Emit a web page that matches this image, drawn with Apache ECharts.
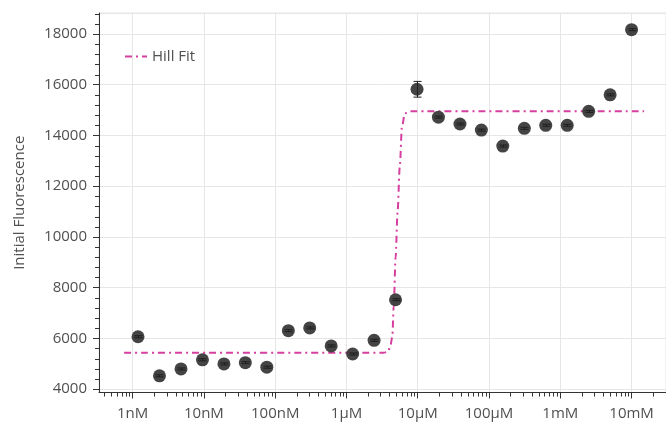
<!DOCTYPE html>
<html>
<head>
<meta charset="utf-8">
<script src="https://cdn.jsdelivr.net/npm/echarts@6/dist/echarts.min.js"></script>
<style>
  html, body { margin: 0; padding: 0; background: #fff; }
  #chart { width: 666px; height: 423px; }
</style>
</head>
<body>
<div id="chart"></div>
<script>
// concentrations (M), 2-fold dilution
var conc = [1.19e-9, 2.38e-9, 4.77e-9, 9.54e-9, 1.91e-8, 3.81e-8, 7.63e-8, 1.53e-7,
  3.05e-7, 6.10e-7, 1.22e-6, 2.44e-6, 4.88e-6, 9.77e-6, 1.95e-5, 3.91e-5,
  7.81e-5, 1.56e-4, 3.13e-4, 6.25e-4, 1.25e-3, 2.5e-3, 5e-3, 1e-2];
var fluo = [6060, 4520, 4790, 5150, 4990, 5040, 4860, 6300,
  6410, 5700, 5380, 5920, 7520, 15820, 14720, 14450,
  14210, 13580, 14280, 14400, 14400, 14950, 15600, 18170];
var fluoErr = [40, 40, 40, 40, 40, 40, 40, 40,
  40, 40, 40, 40, 40, 310, 40, 40,
  40, 40, 40, 40, 40, 40, 40, 40];

// Hill fit curve
var fitX = [7.6e-10, 3.3e-6, 3.8e-6, 4.1e-6, 4.4e-6, 4.6e-6, 4.9e-6, 5.2e-6, 5.6e-6, 6.0e-6, 6.6e-6, 7.7e-6, 1.5e-2];
var fitY = [5430, 5430, 5460, 5650, 6060, 7250, 9220, 10930, 12770, 14340, 14870, 14950, 14950];

var xTickValues = [1e-9, 1e-8, 1e-7, 1e-6, 1e-5, 1e-4, 1e-3, 1e-2];
var xTickLabels = ['1nM', '10nM', '100nM', '1µM', '10µM', '100µM', '1mM', '10mM'];

var xMin = Math.pow(10, -9.472), xMax = Math.pow(10, -1.517);
var yMin = 3862, yMax = 18828;

// minor ticks
var xMinor = [];
for (var d = -10; d <= -2; d++) {
  for (var k = 2; k <= 9; k++) {
    var v = k * Math.pow(10, d);
    if (v > xMin && v < xMax) xMinor.push([v, yMin]);
  }
}
var yMinor = [];
for (var y = 4400; y < yMax; y += 400) {
  if (y % 2000 !== 0) yMinor.push([xMin, y]);
}

var axisColor = '#333';
var textColor = '#505050';
var font = 'Open Sans';

var chart = echarts.init(document.getElementById('chart'));
var option = {
  animation: false,
  grid: { left: 99, right: -1, top: 13, bottom: 30.5, show: true, borderColor: '#e6e6e6', borderWidth: 1 },
  legend: {
    data: ['Hill Fit'],
    left: 119, top: 44,
    itemWidth: 22, itemHeight: 14, itemGap: 5,
    itemStyle: { color: 'rgba(0,0,0,0)', borderWidth: 0 },
    textStyle: { fontSize: 15, color: textColor, fontFamily: font }
  },
  xAxis: {
    type: 'log',
    logBase: 10,
    min: xMin,
    max: xMax,
    splitNumber: 8,
    axisLine: { lineStyle: { color: axisColor } },
    axisTick: { length: 6, lineStyle: { color: axisColor } },
    axisLabel: {
      margin: 14,
      fontSize: 15, color: textColor, fontFamily: font,
      showMinLabel: false, showMaxLabel: false,
      formatter: function (v) {
        for (var i = 0; i < xTickValues.length; i++) {
          if (Math.abs(Math.log10(v) - Math.log10(xTickValues[i])) < 1e-6) return xTickLabels[i];
        }
        return '';
      }
    },
    splitLine: { show: true, lineStyle: { color: '#e6e6e6' } }
  },
  yAxis: {
    type: 'value',
    min: yMin,
    max: yMax,
    splitNumber: 7,
    name: 'Initial Fluorescence',
    nameLocation: 'middle',
    nameGap: 72,
    nameTextStyle: { fontSize: 15, color: textColor, fontFamily: font },
    axisLine: { show: true, lineStyle: { color: axisColor } },
    axisTick: { show: true, length: 6, lineStyle: { color: axisColor } },
    axisLabel: {
      margin: 12,
      fontSize: 15, color: textColor, fontFamily: font,
      showMinLabel: false, showMaxLabel: false,
      formatter: function (v) { return String(v); }
    },
    splitLine: { show: true, lineStyle: { color: '#e6e6e6' } }
  },
  series: [
    {
      name: 'Hill Fit',
      type: 'line',
      data: fitX.map(function (x, i) { return [x, fitY[i]]; }),
      showSymbol: false,
      symbol: 'none',
      smooth: 0.3,
      smoothMonotone: 'x',
      lineStyle: { color: '#d63f9e', width: 2, type: [7, 4, 2, 4] },
      itemStyle: { color: '#d63f9e' },
      z: 3
    },
    {
      name: 'data',
      type: 'scatter',
      data: conc.map(function (x, i) { return [x, fluo[i]]; }),
      symbolSize: 13,
      itemStyle: { color: '#3a3a3a', opacity: 0.95 },
      z: 4
    },
    {
      name: 'err',
      type: 'custom',
      data: conc.map(function (x, i) { return [x, fluo[i], fluoErr[i]]; }),
      renderItem: function (params, api) {
        var x = api.value(0), v = api.value(1), e = api.value(2);
        var top = api.coord([x, v + e]);
        var bot = api.coord([x, v - e]);
        var cx = Math.round(top[0]) + 0.5;
        var st = { stroke: '#1e1e1e', lineWidth: 1 };
        return {
          type: 'group',
          children: [
            { type: 'line', shape: { x1: cx, y1: top[1], x2: cx, y2: bot[1] }, style: st },
            { type: 'line', shape: { x1: cx - 4, y1: top[1], x2: cx + 4, y2: top[1] }, style: st },
            { type: 'line', shape: { x1: cx - 4, y1: bot[1], x2: cx + 4, y2: bot[1] }, style: st }
          ]
        };
      },
      silent: true,
      z: 5
    },
    {
      name: 'xMinor',
      type: 'custom',
      data: xMinor,
      clip: false,
      silent: true,
      renderItem: function (params, api) {
        var p = api.coord([api.value(0), api.value(1)]);
        var x = Math.round(p[0]) + 0.5;
        return { type: 'line', shape: { x1: x, y1: p[1], x2: x, y2: p[1] + 4 }, style: { stroke: axisColor, lineWidth: 1 } };
      },
      z: 6
    },
    {
      name: 'yMinor',
      type: 'custom',
      data: yMinor,
      clip: false,
      silent: true,
      renderItem: function (params, api) {
        var p = api.coord([api.value(0), api.value(1)]);
        var y = Math.round(p[1]) + 0.5;
        return { type: 'line', shape: { x1: p[0] - 4, y1: y, x2: p[0], y2: y }, style: { stroke: axisColor, lineWidth: 1 } };
      },
      z: 6
    }
  ]
};
chart.setOption(option);
</script>
</body>
</html>
